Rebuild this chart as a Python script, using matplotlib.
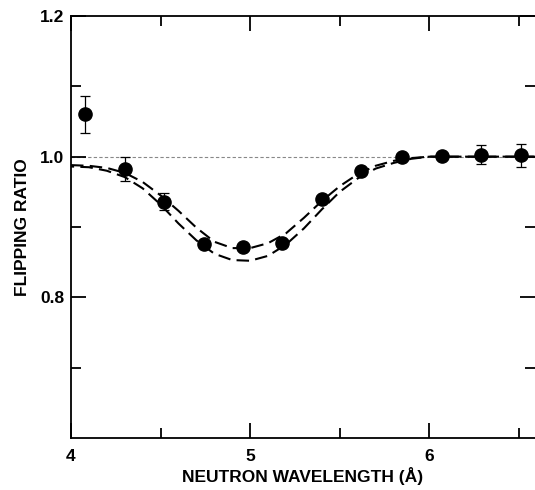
import numpy as np
import matplotlib.pyplot as plt

# measured flipping ratios
wavelength = [4.08, 4.30, 4.52, 4.74, 4.96, 5.18, 5.40, 5.62, 5.85, 6.07, 6.29, 6.51]
ratio = [1.060, 0.983, 0.936, 0.876, 0.872, 0.877, 0.940, 0.980, 1.000, 1.001, 1.003, 1.002]
ratio_err = [0.026, 0.017, 0.012, 0.0, 0.0, 0.0, 0.0, 0.0, 0.0, 0.0, 0.013, 0.016]

# calculated curves
curve_x = [4.0, 4.1, 4.2, 4.3, 4.4, 4.5, 4.6, 4.7, 4.8, 4.9, 5.0, 5.1, 5.2,
           5.3, 5.4, 5.5, 5.6, 5.7, 5.8, 5.9, 6.0, 6.1, 6.6]
curve_upper = [0.988, 0.987, 0.984, 0.977, 0.964, 0.945, 0.923, 0.899, 0.879,
               0.870, 0.870, 0.877, 0.891, 0.913, 0.937, 0.958, 0.975, 0.987,
               0.994, 0.998, 1.000, 1.000, 1.000]
curve_lower = [0.986, 0.985, 0.980, 0.971, 0.955, 0.932, 0.905, 0.881, 0.862,
               0.853, 0.852, 0.859, 0.875, 0.898, 0.925, 0.950, 0.969, 0.983,
               0.991, 0.997, 1.000, 1.000, 1.000]

x_major = [4, 5, 6]
x_minor = [4.5, 5.5, 6.5]
y_major = [0.8, 1.0, 1.2]
y_minor = [0.7, 0.9, 1.1]

plt.rcParams["font.family"] = ["Liberation Sans", "DejaVu Sans"]
plt.rcParams["font.weight"] = "bold"

fig = plt.figure(figsize=(5.35, 4.9), dpi=100)
ax = fig.add_axes([71 / 535, 52 / 490, 1 - 71 / 535, (438 - 16) / 490])

ax.axhline(1.0, color="#888888", linewidth=0.8, linestyle=(0, (3, 2)), zorder=1)

ax.plot(curve_x, curve_upper, color="black", linewidth=1.5,
        linestyle=(0, (6, 3)), zorder=2)
ax.plot(curve_x, curve_lower, color="black", linewidth=1.5,
        linestyle=(4.5, (6, 3)), zorder=2)

ax.errorbar(wavelength, ratio, yerr=ratio_err, fmt="o", color="black",
            markersize=9.5, ecolor="black", elinewidth=0.9, capsize=3.5,
            capthick=0.9, zorder=3)

ax.set_xlim(4.0, 6.59)
ax.set_ylim(0.6, 1.2)

ax.set_xticks(x_major)
ax.set_xticks(x_minor, minor=True)
ax.set_yticks(y_major)
ax.set_yticks(y_minor, minor=True)
ax.set_xticklabels(["4", "5", "6"])
ax.set_yticklabels(["0.8", "1.0", "1.2"])

ax.tick_params(which="both", direction="in", top=True, right=True, width=1.3,
               labelsize=12.5)
ax.tick_params(axis="x", pad=8)
ax.tick_params(axis="y", pad=5)
ax.tick_params(which="major", length=11)
ax.tick_params(which="minor", length=7)

for side in ["left", "bottom", "top"]:
    ax.spines[side].set_linewidth(1.3)
ax.spines["right"].set_visible(False)

ax.set_xlabel("NEUTRON WAVELENGTH (Å)", fontsize=12.5, fontweight="bold",
              labelpad=2)
ax.set_ylabel("FLIPPING RATIO", fontsize=12.5, fontweight="bold", labelpad=7)

plt.savefig("out.png", dpi=100)
plt.close()
